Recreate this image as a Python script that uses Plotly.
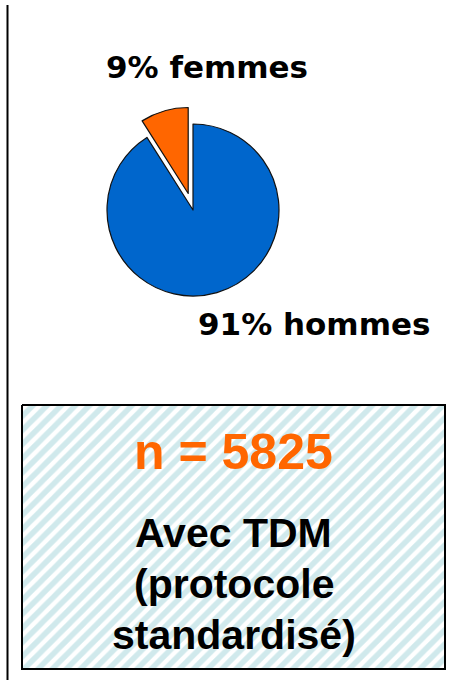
import plotly.graph_objects as go

W, H = 456, 680

# data
labels = ["hommes", "femmes"]
values = [91, 9]
colors = ["#0066CC", "#FF6600"]
pie_labels = ["9% femmes", "91% hommes"]
n_total = 5825
box_lines = ["Avec TDM", "(protocole", "standardisé)"]


def py(ypx):
    # pixel (from top) -> paper
    return 1 - ypx / H


fig = go.Figure()

# hatched box (bottom)
bx0, bx1, by0, by1 = 22, 445, 405, 669
fig.add_trace(go.Scatter(
    x=[bx0, bx1, bx1, bx0, bx0],
    y=[by0, by0, by1, by1, by0],
    mode="lines",
    fill="toself",
    fillcolor="white",
    fillpattern=dict(shape="/", fgcolor="#a2d4d9", bgcolor="white",
                     size=10, solidity=0.55),
    line=dict(color="black", width=2),
    hoverinfo="skip",
    showlegend=False,
))

# pie with the femmes slice pulled out
pull = 0.2
cx, cy, r = 193, 210, 86
half = r * (1 + pull)
fig.add_trace(go.Pie(
    labels=labels,
    values=values,
    sort=False,
    direction="clockwise",
    rotation=0,
    pull=[0, pull],
    marker=dict(colors=colors, line=dict(color="#111111", width=1.2)),
    textinfo="none",
    hoverinfo="label+percent",
    showlegend=False,
    domain=dict(x=[(cx - half) / W, (cx + half) / W],
                y=[py(cy + half), py(cy - half)]),
))

label_font = dict(family="DejaVu Sans", size=31, color="black")
fig.add_annotation(x=207 / W, y=py(67), xref="paper", yref="paper",
                   text="<b>" + pie_labels[0] + "</b>", showarrow=False,
                   font=label_font, xanchor="center", yanchor="middle")
fig.add_annotation(x=314 / W, y=py(324), xref="paper", yref="paper",
                   text="<b>" + pie_labels[1] + "</b>", showarrow=False,
                   font=label_font, xanchor="center", yanchor="middle")

# box texts
tx = (bx0 + bx1) / 2
fig.add_annotation(x=tx / W, y=py(452), xref="paper", yref="paper",
                   text="<b>n = %d</b>" % n_total, showarrow=False,
                   font=dict(family="Liberation Sans", size=50, color="#FF6600"),
                   xanchor="center", yanchor="middle")
for i, line in enumerate(box_lines):
    fig.add_annotation(x=tx / W, y=py(533 + 51 * i), xref="paper", yref="paper",
                       text="<b>" + line + "</b>", showarrow=False,
                       font=dict(family="Liberation Sans", size=41, color="black"),
                       xanchor="center", yanchor="middle")

# vertical rule on the left
fig.add_shape(type="line", xref="paper", yref="paper",
              x0=7.5 / W, x1=7.5 / W, y0=py(5), y1=py(H),
              line=dict(color="black", width=2))

fig.update_xaxes(range=[0, W], visible=False, fixedrange=True)
fig.update_yaxes(range=[H, 0], visible=False, fixedrange=True)
fig.update_layout(
    width=W, height=H,
    margin=dict(l=0, r=0, t=0, b=0),
    paper_bgcolor="white",
    plot_bgcolor="white",
)

# page has a default 8px body margin; drop it so the figure sits at 0,0
fig.write_html("out.html", config={"displayModeBar": False},
               post_script="document.body.style.margin='0';")
